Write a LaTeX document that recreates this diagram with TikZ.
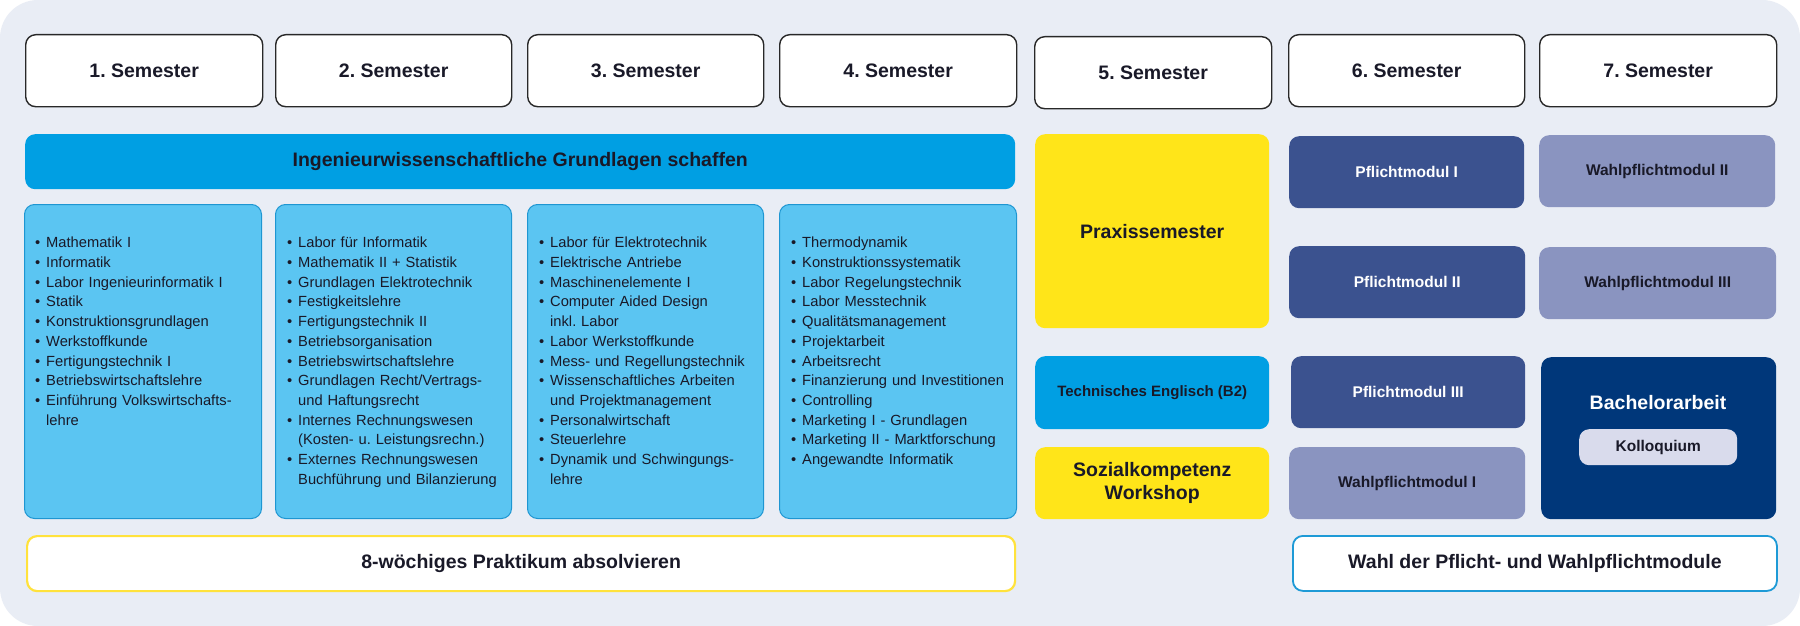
\documentclass[tikz,border=0pt]{standalone}
\usepackage{fontspec}
\setmainfont{Liberation Sans}
\usepackage{xcolor}
\usepackage{tikz}
\usetikzlibrary{positioning}
\frenchspacing
\definecolor{bgcol}{RGB}{233, 237, 245}
\definecolor{semborder}{RGB}{40, 40, 40}
\definecolor{bandblue}{RGB}{0, 159, 227}
\definecolor{fachblue}{RGB}{91, 197, 242}
\definecolor{fachborder}{RGB}{30, 150, 210}
\definecolor{praxisyellow}{RGB}{255, 229, 25}
\definecolor{praktborder}{RGB}{255, 226, 60}
\definecolor{pflichtblue}{RGB}{59, 82, 143}
\definecolor{wahlblue}{RGB}{138, 148, 192}
\definecolor{bachelorblue}{RGB}{0, 55, 122}
\definecolor{kolloqgray}{RGB}{217, 219, 236}
\definecolor{wahlborder}{RGB}{30, 154, 214}
\definecolor{textdark}{RGB}{25, 25, 40}

\newcommand{\labelfont}{\fontsize{19.5}{23}\selectfont\bfseries}
\newcommand{\modfont}{\fontsize{15.5}{18}\selectfont\bfseries}
\newcommand{\listfont}{\fontsize{14.7}{19.7}\selectfont}
\newcommand{\itm}[1]{\hangindent=11pt\hangafter=1\noindent\makebox[11pt][l]{\textbullet}#1\par}

\tikzset{
  basebox/.style={anchor=north west, inner sep=0pt, rounded corners=10pt, text=textdark, align=center},
  sembox/.style={basebox, draw=semborder, line width=1.4pt, fill=white,
    minimum width=237pt, minimum height=72pt, font=\labelfont},
  fachbox/.style={basebox, draw=fachborder, line width=1pt, fill=fachblue,
    minimum width=237pt, minimum height=314pt},
  fachtext/.style={anchor=north west, inner sep=0pt, text width=235pt,
    font=\listfont, text=textdark},
  praxbox/.style={basebox, fill=praxisyellow, minimum width=234pt, font=\labelfont},
  pflichtbox/.style={basebox, fill=pflichtblue, text=white, minimum width=236pt,
    minimum height=72pt, font=\modfont},
  wahlbox/.style={basebox, fill=wahlblue, minimum width=236pt,
    minimum height=72pt, font=\modfont},
  framebox/.style={basebox, fill=white, line width=2.2pt, minimum height=55pt, font=\labelfont}
}

\begin{document}
\begin{tikzpicture}[x=1pt, y=-1pt]
  \useasboundingbox (0,0) rectangle (1800,626);
  \fill[white] (0,0) rectangle (1800,626);
  \fill[bgcol, rounded corners=38pt] (0,0) rectangle (1800,626);

  % Semesterkoepfe
  \node[sembox] (sem1) at (25,34) {1. Semester};
  \node[sembox, minimum width=236pt] (sem2) at (275,34) {2. Semester};
  \node[sembox, minimum width=236pt] (sem3) at (527,34) {3. Semester};
  \node[sembox] (sem4) at (779,34) {4. Semester};
  \node[sembox] (sem5) at (1034,36) {5. Semester};
  \node[sembox, minimum width=236pt] (sem6) at (1288,34) {6. Semester};
  \node[sembox] (sem7) at (1539,34) {7. Semester};

  % Grundlagen
  \node[basebox, fill=bandblue, minimum width=990pt, minimum height=55pt, font=\labelfont]
    (grundlagen) at (25,134) {Ingenieurwissenschaftliche Grundlagen schaffen};

  % Faecher 1.--4. Semester
  \node[fachbox] (fach1) at (24,204) {};
  \node[fachbox, minimum width=236pt] (fach2) at (275,204) {};
  \node[fachbox, minimum width=236pt] (fach3) at (527,204) {};
  \node[fachbox] (fach4) at (779,204) {};

  \node[fachtext] (inhalt1) at (35,237) {%
    \itm{Mathematik I}
    \itm{Informatik}
    \itm{Labor Ingenieurinformatik I}
    \itm{Statik}
    \itm{Konstruktionsgrundlagen}
    \itm{Werkstoffkunde}
    \itm{Fertigungstechnik I}
    \itm{Betriebswirtschaftslehre}
    \itm{Einführung Volkswirtschafts-\newline lehre}};
  \node[fachtext] (inhalt2) at (287,237) {%
    \itm{Labor für Informatik}
    \itm{Mathematik II + Statistik}
    \itm{Grundlagen Elektrotechnik}
    \itm{Festigkeitslehre}
    \itm{Fertigungstechnik II}
    \itm{Betriebsorganisation}
    \itm{Betriebswirtschaftslehre}
    \itm{Grundlagen Recht/Vertrags-\newline und Haftungsrecht}
    \itm{Internes Rechnungswesen\newline (Kosten- u. Leistungsrechn.)}
    \itm{Externes Rechnungswesen\newline Buchführung und Bilanzierung}};
  \node[fachtext] (inhalt3) at (539,237) {%
    \itm{Labor für Elektrotechnik}
    \itm{Elektrische Antriebe}
    \itm{Maschinenelemente I}
    \itm{Computer Aided Design\newline inkl. Labor}
    \itm{Labor Werkstoffkunde}
    \itm{Mess- und Regellungstechnik}
    \itm{Wissenschaftliches Arbeiten\newline und Projektmanagement}
    \itm{Personalwirtschaft}
    \itm{Steuerlehre}
    \itm{Dynamik und Schwingungs-\newline lehre}};
  \node[fachtext] (inhalt4) at (791,237) {%
    \itm{Thermodynamik}
    \itm{Konstruktionssystematik}
    \itm{Labor Regelungstechnik}
    \itm{Labor Messtechnik}
    \itm{Qualitätsmanagement}
    \itm{Projektarbeit}
    \itm{Arbeitsrecht}
    \itm{Finanzierung und Investitionen}
    \itm{Controlling}
    \itm{Marketing I - Grundlagen}
    \itm{Marketing II - Marktforschung}
    \itm{Angewandte Informatik}};

  % 5. Semester
  \node[praxbox, minimum height=194pt] (praxis) at (1035,134) {Praxissemester};
  \node[basebox, fill=bandblue, minimum width=234pt, minimum height=73pt, font=\fontsize{15}{18}\selectfont\bfseries]
    (englisch) at (1035,356) {Technisches Englisch (B2)};
  \node[praxbox, minimum height=72pt] (sozial) at (1035,447) {Sozialkompetenz\\Workshop};

  % 6. Semester
  \node[pflichtbox, minimum width=235pt] (pflicht1) at (1289,136) {Pflichtmodul I};
  \node[pflichtbox] (pflicht2) at (1289,246) {Pflichtmodul II};
  \node[pflichtbox, minimum width=234pt] (pflicht3) at (1291,356) {Pflichtmodul III};
  \node[wahlbox] (wahl1) at (1289,447) {Wahlpflichtmodul I};

  % 7. Semester
  \node[wahlbox] (wahl2) at (1539,135) {Wahlpflichtmodul II};
  \node[wahlbox, minimum width=237pt] (wahl3) at (1539,247) {Wahlpflichtmodul III};
  \node[basebox, fill=bachelorblue, minimum width=235pt, minimum height=162pt] (bachelor) at (1541,357) {};
  \node[text=white, font=\labelfont] (bachelortitel) at (1658,403) {Bachelorarbeit};
  \node[basebox, fill=kolloqgray, minimum width=158pt, minimum height=36pt, font=\modfont]
    (kolloquium) at (1579,429) {Kolloquium};

  % Praktikum und Wahl
  \node[framebox, draw=praktborder, minimum width=988pt] (praktikum) at (26,535) {8-wöchiges Praktikum absolvieren};
  \node[framebox, draw=wahlborder, line width=1.8pt, minimum width=484pt] (modulwahl) at (1292,535) {Wahl der Pflicht- und Wahlpflichtmodule};
\end{tikzpicture}
\end{document}
